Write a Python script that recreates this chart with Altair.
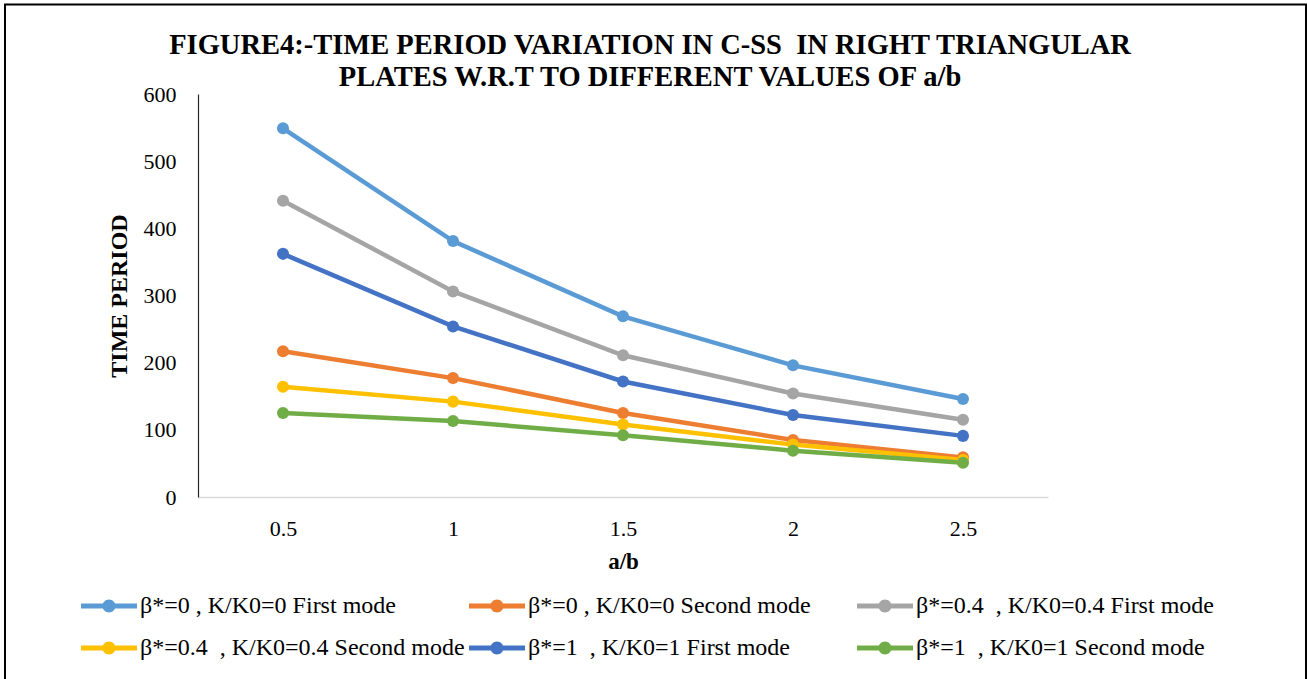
import altair as alt
import pandas as pd

# ---- data ----
ab_values = ["0.5", "1", "1.5", "2", "2.5"]

series_names = [
    "β*=0 , K/K0=0 First mode",
    "β*=0 , K/K0=0 Second mode",
    "β*=0.4\u00a0\u00a0, K/K0=0.4 First mode",
    "β*=0.4\u00a0\u00a0, K/K0=0.4 Second mode",
    "β*=1\u00a0\u00a0, K/K0=1 First mode",
    "β*=1\u00a0\u00a0, K/K0=1 Second mode",
]
s_b0_first = [549, 381, 269, 196, 146]
s_b0_second = [217, 177, 125, 85, 59]
s_b04_first = [441, 306, 211, 154, 115]
s_b04_second = [164, 142, 108, 78, 55]
s_b1_first = [362, 254, 172, 122, 91]
s_b1_second = [125, 113, 92, 69, 51]

series_colors = ["#5B9BD5", "#ED7D31", "#A5A5A5", "#FFC000", "#4472C4", "#70AD47"]

title_lines = [
    "FIGURE4:-TIME PERIOD VARIATION IN C-SS\u00a0\u00a0IN RIGHT TRIANGULAR\u00a0\u00a0",
    "PLATES W.R.T TO DIFFERENT VALUES OF a/b",
]

all_series = [s_b0_first, s_b0_second, s_b04_first, s_b04_second, s_b1_first, s_b1_second]
rows = []
for order, (name, vals) in enumerate(zip(series_names, all_series)):
    for x, v in zip(ab_values, vals):
        rows.append({"ab": x, "period": v, "series": name, "order": order})
df = pd.DataFrame(rows)

FONT = "Liberation Serif"
W, H = 850, 403
PAD_L, PAD_T = 198, 94

legend_symbol = (
    "M-2.8,-0.25H2.8V0.25H-2.8Z "
    "M0.65,0A0.65,0.65 0 1,1 -0.65,0A0.65,0.65 0 1,1 0.65,0Z"
)

x_enc = alt.X(
    "ab:O",
    sort=ab_values,
    scale=alt.Scale(type="point", padding=0.5),
    axis=alt.Axis(
        title="a/b",
        labelAngle=0,
        labelFont=FONT,
        labelFontSize=22,
        labelColor="black",
        labelPadding=21,
        ticks=False,
        domainColor="#D9D9D9",
        domainWidth=1.5,
        titleFont=FONT,
        titleFontSize=23,
        titleFontWeight="bold",
        titleColor="black",
        titlePadding=11,
        grid=False,
    ),
)
y_enc = alt.Y(
    "period:Q",
    scale=alt.Scale(domain=[0, 600], nice=False),
    axis=alt.Axis(
        title="TIME PERIOD",
        values=[0, 100, 200, 300, 400, 500, 600],
        labelFont=FONT,
        labelFontSize=22,
        labelColor="black",
        labelPadding=22,
        ticks=False,
        domainColor="#262626",
        domainWidth=1.2,
        titleFont=FONT,
        titleFontSize=24,
        titleFontWeight="bold",
        titleColor="black",
        titlePadding=12,
        grid=False,
    ),
)
color_scale = alt.Scale(domain=series_names, range=series_colors)

lines = alt.Chart(df).mark_line(strokeWidth=4.5).encode(
    x=x_enc,
    y=y_enc,
    color=alt.Color("series:N", sort=series_names, scale=color_scale, legend=None),
    order=alt.Order("order:Q"),
)

points = alt.Chart(df).mark_point(filled=True, size=145, opacity=1).encode(
    x=x_enc,
    y=y_enc,
    color=alt.Color(
        "series:N",
        sort=series_names,
        scale=color_scale,
        legend=alt.Legend(
            title=None,
            orient="none",
            legendX=-101,
            legendY=500,
            direction="horizontal",
            columns=3,
            gridAlign="all",
            symbolType=legend_symbol,
            symbolSize=400,
            symbolStrokeWidth=0,
            symbolOpacity=1,
            labelFont=FONT,
            labelFontSize=24,
            labelColor="black",
            labelOffset=19,
            labelLimit=600,
            columnPadding=4,
            rowPadding=18,
            padding=0,
        ),
    ),
)

frame = alt.Chart(alt.Data(values=[{"f": 1}])).mark_rect(
    filled=False, stroke="black", strokeWidth=2
).encode(
    x=alt.value(5 - PAD_L),
    x2=alt.value(1306 - PAD_L),
    y=alt.value(4.5 - PAD_T),
    y2=alt.value(700 - PAD_T),
)

chart = alt.layer(lines, points, frame).resolve_legend(color="independent").properties(
    width=W,
    height=H,
    background="white",
    title=alt.TitleParams(
        text=title_lines,
        font=FONT,
        fontSize=28.5,
        fontWeight="bold",
        color="black",
        anchor="middle",
        frame="group",
        dx=27,
        dy=92,
        offset=4,
        lineHeight=32,
    ),
    autosize=alt.AutoSizeParams(type="none"),
    padding={"left": PAD_L, "top": PAD_T, "right": 1307 - PAD_L - W, "bottom": 679 - PAD_T - H},
).configure_view(strokeWidth=0, stroke="transparent")

chart.save("out.html", embed_options={"renderer": "svg", "actions": False})
